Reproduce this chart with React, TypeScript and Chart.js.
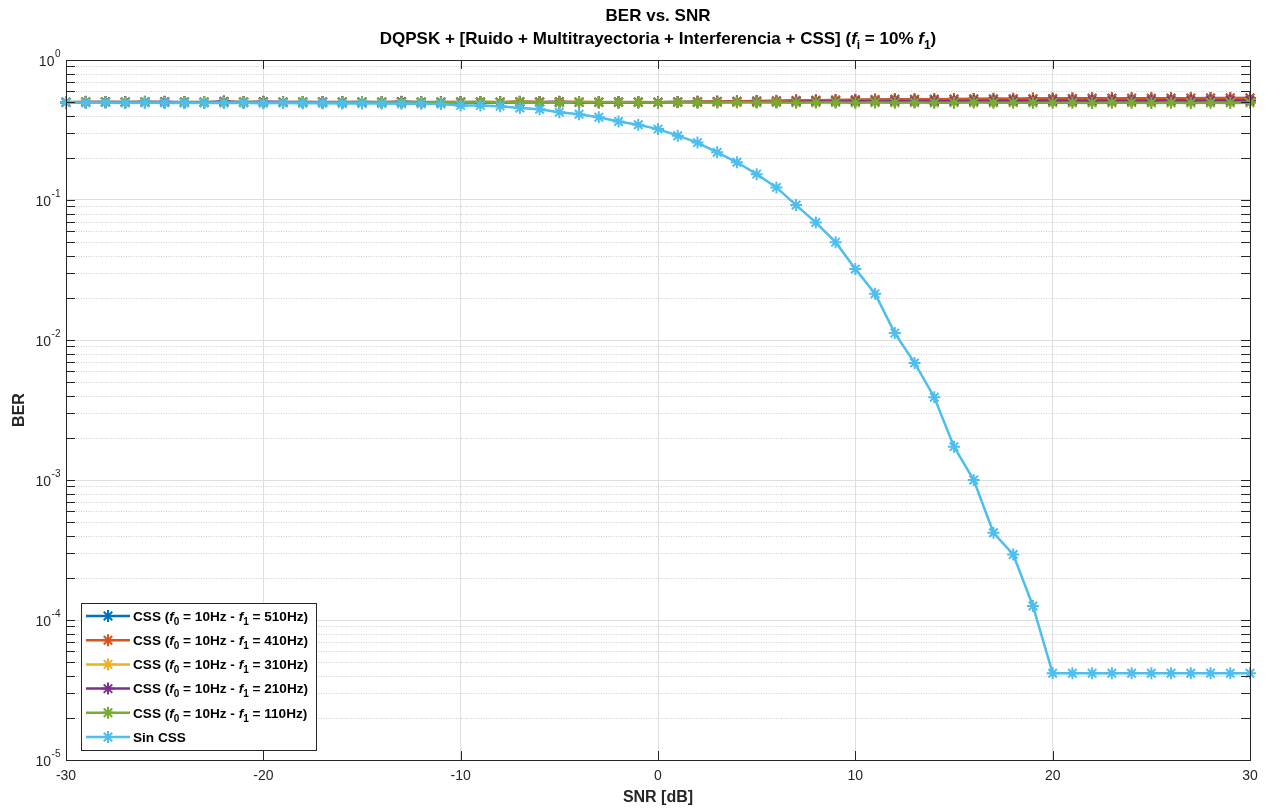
import React, { useEffect, useRef } from "react";
import { Chart, registerables } from "chart.js";

Chart.register(...registerables);

const FONT = '"Liberation Sans", Arial, Helvetica, sans-serif';

const snrDb = [
  -30, -29, -28, -27, -26, -25, -24, -23, -22, -21, -20, -19, -18, -17, -16, -15, -14, -13, -12, -11,
  -10, -9, -8, -7, -6, -5, -4, -3, -2, -1,
  0, 1, 2, 3, 4, 5, 6, 7, 8, 9, 10, 11, 12, 13, 14, 15, 16, 17, 18, 19, 20,
  21, 22, 23, 24, 25, 26, 27, 28, 29, 30,
];

const ber510 = [
  0.501, 0.499, 0.502, 0.5, 0.503, 0.498, 0.501, 0.499, 0.504, 0.5, 0.502, 0.499, 0.501, 0.498, 0.5, 0.502, 0.499, 0.501, 0.5, 0.498,
  0.5, 0.501, 0.499, 0.502, 0.5, 0.497, 0.499, 0.5, 0.498, 0.5,
  0.499, 0.501, 0.503, 0.504, 0.506, 0.508, 0.51, 0.512, 0.514, 0.516, 0.518, 0.52, 0.524, 0.523, 0.525, 0.524, 0.526, 0.527, 0.526, 0.528, 0.529,
  0.53, 0.534, 0.533, 0.534, 0.532, 0.533, 0.534, 0.535, 0.534, 0.536,
];

const ber410 = [
  0.498, 0.503, 0.5, 0.499, 0.501, 0.5, 0.498, 0.502, 0.5, 0.499, 0.501, 0.5, 0.502, 0.499, 0.501, 0.498, 0.5, 0.502, 0.499, 0.5,
  0.498, 0.501, 0.5, 0.503, 0.499, 0.501, 0.502, 0.5, 0.499, 0.501,
  0.5, 0.502, 0.504, 0.506, 0.507, 0.51, 0.512, 0.515, 0.516, 0.518, 0.52, 0.522, 0.522, 0.524, 0.525, 0.526, 0.527, 0.528, 0.529, 0.53, 0.53,
  0.531, 0.531, 0.532, 0.532, 0.533, 0.533, 0.534, 0.534, 0.535, 0.535,
];

const ber310 = [
  0.5, 0.501, 0.499, 0.502, 0.5, 0.498, 0.501, 0.5, 0.499, 0.502, 0.5, 0.501, 0.498, 0.5, 0.502, 0.499, 0.501, 0.5, 0.498, 0.501,
  0.5, 0.502, 0.499, 0.503, 0.5, 0.498, 0.501, 0.502, 0.5, 0.499,
  0.5, 0.501, 0.499, 0.502, 0.5, 0.501, 0.503, 0.502, 0.501, 0.503, 0.502, 0.504, 0.503, 0.502, 0.504, 0.503, 0.505, 0.504, 0.503, 0.505, 0.504,
  0.505, 0.504, 0.506, 0.505, 0.504, 0.506, 0.505, 0.506, 0.505, 0.506,
];

const ber210 = [
  0.499, 0.5, 0.502, 0.501, 0.499, 0.503, 0.5, 0.498, 0.505, 0.5, 0.504, 0.501, 0.499, 0.502, 0.5, 0.501, 0.499, 0.504, 0.5, 0.502,
  0.501, 0.499, 0.5, 0.502, 0.501, 0.504, 0.5, 0.499, 0.502, 0.5,
  0.499, 0.501, 0.5, 0.502, 0.501, 0.503, 0.502, 0.504, 0.506, 0.505, 0.507, 0.506, 0.508, 0.507, 0.509, 0.508, 0.51, 0.509, 0.511, 0.51, 0.512,
  0.511, 0.512, 0.513, 0.512, 0.513, 0.514, 0.513, 0.514, 0.515, 0.514,
];

const ber110 = [
  0.5, 0.499, 0.501, 0.5, 0.502, 0.5, 0.499, 0.501, 0.5, 0.502, 0.499, 0.5, 0.501, 0.499, 0.5, 0.502, 0.5, 0.499, 0.501, 0.5,
  0.499, 0.501, 0.5, 0.502, 0.499, 0.5, 0.501, 0.499, 0.5, 0.499,
  0.498, 0.499, 0.497, 0.498, 0.499, 0.497, 0.498, 0.496, 0.497, 0.498, 0.496, 0.497, 0.496, 0.497, 0.495, 0.496, 0.497, 0.495, 0.496, 0.495, 0.496,
  0.495, 0.494, 0.495, 0.496, 0.494, 0.495, 0.494, 0.495, 0.494, 0.495,
];

const berSinCss = [
  0.497, 0.495, 0.496, 0.494, 0.495, 0.494, 0.493, 0.494, 0.492, 0.493, 0.491, 0.492, 0.49, 0.491, 0.489, 0.488, 0.488, 0.487, 0.486, 0.484,
  0.474, 0.474, 0.468, 0.454, 0.445, 0.424, 0.41, 0.39, 0.364, 0.345,
  0.321, 0.288, 0.257, 0.219, 0.186, 0.153, 0.123, 0.092, 0.069, 0.05, 0.0321, 0.0214, 0.0112, 0.00686, 0.0039, 0.00173, 0.001, 0.00042, 0.000294, 0.000126, 0.0000417,
  0.0000417, 0.0000417, 0.0000417, 0.0000417, 0.0000417, 0.0000417, 0.0000417, 0.0000417, 0.0000417, 0.0000417,
];

const seriesLabels = [
  "CSS (f_0 = 10Hz - f_1 = 510Hz)",
  "CSS (f_0 = 10Hz - f_1 = 410Hz)",
  "CSS (f_0 = 10Hz - f_1 = 310Hz)",
  "CSS (f_0 = 10Hz - f_1 = 210Hz)",
  "CSS (f_0 = 10Hz - f_1 = 110Hz)",
  "Sin CSS",
];
const seriesColors = ["#0072BD", "#D95319", "#EDB120", "#7E2F8E", "#77AC30", "#4DBEEE"];
const seriesData = [ber510, ber410, ber310, ber210, ber110, berSinCss];

const xTickValues = [-30, -20, -10, 0, 10, 20, 30];
const yTickValues = [1e-5, 1e-4, 1e-3, 1e-2, 1e-1, 1];
const yTickBase = "10";
const yTickExponents = ["-5", "-4", "-3", "-2", "-1", "0"];
const yMinorMultipliers = [2, 3, 4, 5, 6, 7, 8, 9];

const titleLine1 = "BER vs. SNR";
const titleLine2 = "DQPSK + [Ruido + Multitrayectoria + Interferencia + CSS] (f_i = 10% f_1)";
const xTitle = "SNR [dB]";
const yTitle = "BER";

type Seg = { t: string; it?: boolean; sub?: boolean };

function parseRich(s: string): Seg[] {
  const out: Seg[] = [];
  const re = /f_(\w)/g;
  let last = 0;
  let m: RegExpExecArray | null;
  while ((m = re.exec(s))) {
    if (m.index > last) out.push({ t: s.slice(last, m.index) });
    out.push({ t: "f", it: true });
    out.push({ t: m[1], sub: true });
    last = m.index + m[0].length;
  }
  if (last < s.length) out.push({ t: s.slice(last) });
  return out;
}

function drawRich(ctx: CanvasRenderingContext2D, s: string, x: number, y: number, size: number, align: "left" | "center") {
  const segs = parseRich(s);
  const fontOf = (g: Seg) => `${g.it ? "italic " : ""}bold ${g.sub ? Math.round(size * 0.72) : size}px ${FONT}`;
  let total = 0;
  for (const g of segs) {
    ctx.font = fontOf(g);
    total += ctx.measureText(g.t).width;
  }
  let cx = align === "center" ? x - total / 2 : x;
  ctx.textAlign = "left";
  ctx.textBaseline = "alphabetic";
  for (const g of segs) {
    ctx.font = fontOf(g);
    ctx.fillText(g.t, cx, y + (g.sub ? size * 0.3 : 0));
    cx += ctx.measureText(g.t).width;
  }
}

function drawStar(ctx: CanvasRenderingContext2D, x: number, y: number, r: number) {
  ctx.beginPath();
  for (let k = 0; k < 4; k++) {
    const a = (k * Math.PI) / 4;
    ctx.moveTo(x - Math.cos(a) * r, y - Math.sin(a) * r);
    ctx.lineTo(x + Math.cos(a) * r, y + Math.sin(a) * r);
  }
  ctx.stroke();
}

const decorPlugin = {
  id: "matlabDecor",
  beforeDatasetsDraw(chart: any) {
    const { ctx, chartArea } = chart;
    const ys = chart.scales.y;
    ctx.save();
    ctx.strokeStyle = "#cdcdcd";
    ctx.lineWidth = 1;
    ctx.setLineDash([1, 1.5]);
    for (let d = 0; d < yTickValues.length - 1; d++) {
      for (const k of yMinorMultipliers) {
        const py = Math.round(ys.getPixelForValue(yTickValues[d] * k)) + 0.5;
        ctx.beginPath();
        ctx.moveTo(chartArea.left, py);
        ctx.lineTo(chartArea.right, py);
        ctx.stroke();
      }
    }
    ctx.restore();
  },
  afterDatasetsDraw(chart: any) {
    const { ctx, chartArea } = chart;
    const ys = chart.scales.y;
    const xs = chart.scales.x;
    const L = chartArea.left, R = chartArea.right, T = chartArea.top, B = chartArea.bottom;
    ctx.save();
    ctx.strokeStyle = "#262626";
    ctx.lineWidth = 1;
    ctx.setLineDash([]);
    ctx.strokeRect(Math.round(L) + 0.5, Math.round(T) + 0.5, Math.round(R - L), Math.round(B - T));
    const tl = 9;
    const yAll: number[] = [];
    for (let d = 0; d < yTickValues.length; d++) {
      yAll.push(yTickValues[d]);
      if (d < yTickValues.length - 1) for (const k of yMinorMultipliers) yAll.push(yTickValues[d] * k);
    }
    ctx.beginPath();
    for (const v of yAll) {
      const py = Math.round(ys.getPixelForValue(v)) + 0.5;
      ctx.moveTo(L, py);
      ctx.lineTo(L + tl, py);
      ctx.moveTo(R, py);
      ctx.lineTo(R - tl, py);
    }
    for (const v of xTickValues) {
      const px = Math.round(xs.getPixelForValue(v)) + 0.5;
      ctx.moveTo(px, B);
      ctx.lineTo(px, B - tl);
      ctx.moveTo(px, T);
      ctx.lineTo(px, T + tl);
    }
    ctx.stroke();

    // y tick labels with superscript exponents
    ctx.fillStyle = "#262626";
    ctx.textBaseline = "alphabetic";
    ctx.textAlign = "left";
    yTickValues.forEach((v, i) => {
      const py = ys.getPixelForValue(v);
      ctx.font = `14px ${FONT}`;
      const wb = ctx.measureText(yTickBase).width;
      ctx.font = `10px ${FONT}`;
      const we = ctx.measureText(yTickExponents[i]).width;
      const right = L - 6;
      const x0 = right - we - wb;
      ctx.font = `14px ${FONT}`;
      ctx.fillText(yTickBase, x0, py + 6);
      ctx.font = `10px ${FONT}`;
      ctx.fillText(yTickExponents[i], x0 + wb + 0.5, py - 3);
    });

    // Titles
    ctx.fillStyle = "#000000";
    const cx = (L + R) / 2;
    drawRich(ctx, titleLine1, cx, 21, 17, "center");
    drawRich(ctx, titleLine2, cx, 44, 17, "center");

    // Legend
    const bx = 81, by = 603, bw = 235, bh = 147;
    ctx.fillStyle = "#ffffff";
    ctx.fillRect(bx, by, bw, bh);
    ctx.strokeStyle = "#262626";
    ctx.lineWidth = 1;
    ctx.strokeRect(bx + 0.5, by + 0.5, bw, bh);
    chart.data.datasets.forEach((ds: any, i: number) => {
      const yy = 616 + i * 24.2;
      ctx.strokeStyle = ds.borderColor;
      ctx.lineWidth = 2.5;
      ctx.beginPath();
      ctx.moveTo(86, yy);
      ctx.lineTo(130, yy);
      ctx.stroke();
      ctx.lineWidth = 2;
      drawStar(ctx, 108, yy, 6);
      ctx.fillStyle = "#000000";
      drawRich(ctx, ds.label, 133, yy + 4.8, 13.6, "left");
    });
    ctx.restore();
  },
};

export default function App() {
  const ref = useRef<HTMLCanvasElement | null>(null);
  useEffect(() => {
    if (!ref.current) return;
    const orders = [5, 4, 3, 2, 1, 0];
    const chart = new Chart(ref.current, {
      type: "line",
      data: {
        datasets: seriesData.map((arr, i) => ({
          label: seriesLabels[i],
          data: snrDb.map((x, j) => ({ x, y: arr[j] })),
          borderColor: seriesColors[i],
          backgroundColor: seriesColors[i],
          pointBorderColor: seriesColors[i],
          pointBackgroundColor: seriesColors[i],
          borderWidth: 2.5,
          pointStyle: "star",
          pointRadius: 6,
          pointBorderWidth: 2,
          order: orders[i],
          clip: false,
          tension: 0,
          fill: false,
        })),
      },
      options: {
        animation: false,
        responsive: false,
        events: [],
        layout: { padding: { top: 60, right: 18, bottom: 0, left: 0 } },
        plugins: {
          legend: { display: false },
          title: { display: false },
          tooltip: { enabled: false },
        },
        scales: {
          x: {
            type: "linear",
            min: -30,
            max: 30,
            afterBuildTicks: (s: any) => {
              s.ticks = xTickValues.map((v) => ({ value: v }));
            },
            afterFit: (s: any) => {
              s.height = 49;
            },
            ticks: {
              font: { family: FONT, size: 14 },
              color: "#262626",
              padding: 8,
              autoSkip: false,
              maxRotation: 0,
            },
            grid: { color: "#dfdfdf", drawTicks: false, lineWidth: 1 },
            border: { display: false },
            title: {
              display: true,
              text: xTitle,
              font: { family: FONT, size: 16, weight: "bold" },
              color: "#262626",
              padding: { top: 0, bottom: 2 },
            },
          },
          y: {
            type: "logarithmic",
            min: 1e-5,
            max: 1,
            afterBuildTicks: (s: any) => {
              s.ticks = yTickValues.map((v) => ({ value: v }));
            },
            afterFit: (s: any) => {
              s.width = 66;
            },
            ticks: { display: false },
            grid: { color: "#dfdfdf", drawTicks: false, lineWidth: 1 },
            border: { display: false },
            title: {
              display: true,
              text: yTitle,
              font: { family: FONT, size: 16, weight: "bold" },
              color: "#262626",
              padding: { top: 10, bottom: 0 },
            },
          },
        },
      },
      plugins: [decorPlugin],
    } as any);
    return () => chart.destroy();
  }, []);
  return (
    <div style={{ position: "absolute", left: 0, top: 0, width: 1268, height: 809, background: "#ffffff" }}>
      <canvas ref={ref} width={1268} height={809} />
    </div>
  );
}
